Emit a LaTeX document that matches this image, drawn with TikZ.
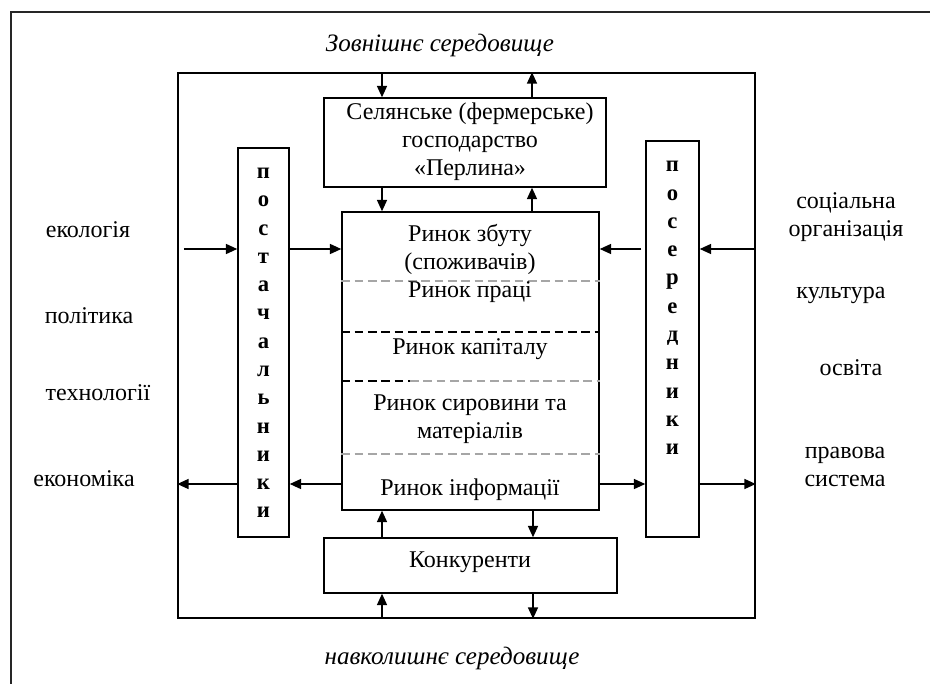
\documentclass[tikz,border=0pt]{standalone}
\usepackage{fontspec}
\setmainfont{Liberation Serif}
\usetikzlibrary{fit,arrows.meta}
\begin{document}
\begin{tikzpicture}[x=0.75pt,y=-0.75pt,
  box/.style={draw=black,line width=1.1pt,inner sep=0pt},
  txt/.style={font=\fontsize{18}{21}\selectfont,align=center,inner sep=0pt},
  vtxt/.style={font=\bfseries\fontsize{17}{21.2}\selectfont,align=center,inner sep=0pt},
  itxt/.style={font=\itshape\fontsize{18.8}{21}\selectfont,inner sep=0pt},
  arr/.style={line width=1.1pt,-{Triangle[length=8.5pt,width=7.5pt]}},
  dline/.style={line width=1pt,dash pattern=on 6.5pt off 3.5pt},
  frameline/.style={draw=black!85,line width=1.5pt}]
\useasboundingbox (0,0) rectangle (930,684);
\draw[frameline] (11,684) -- (11,12) -- (930,12);
% boxes
\node[box,fit={(178,73) (755,618)}] (env) {};
\node[box,fill=white,fit={(324,98) (606,187)}] (farm) {};
\node[box,fill=white,fit={(342,212) (599,510)}] (market) {};
\node[box,fill=white,fit={(324,538) (617,593)}] (konk) {};
\node[box,fill=white,fit={(238,148) (289,537)}] (post) {};
\node[box,fill=white,fit={(646,141) (699,537)}] (posr) {};
% dashed dividers
\draw[dline,gray!70] (market.west |- 0,281) -- (market.east |- 0,281);
\draw[dline,black] (market.west |- 0,332) -- (market.east |- 0,332);
\draw[dline,black] (market.west |- 0,381) -- (410,381);
\draw[dline,gray!70] (410,381) -- (market.east |- 0,381);
\draw[dline,gray!70] (market.west |- 0,454) -- (market.east |- 0,454);
% texts
\node[txt] (tfarm) at (470,142) {Селянське (фермерське)\\господарство\\«Перлина»};
\node[txt] (t1) at (470,249) {Ринок збуту\\(споживачів)};
\node[txt] (t2) at (470,292) {Ринок праці};
\node[txt] (t3) at (470,349) {Ринок капіталу};
\node[txt] (t4) at (470,419) {Ринок сировини та\\матеріалів};
\node[txt] (t5) at (470,490) {Ринок інформації};
\node[txt] (t6) at (470,562) {Конкуренти};
\node[vtxt] (tpost) at (263.5,343) {п\\о\\с\\т\\а\\ч\\а\\л\\ь\\н\\и\\к\\и};
\node[vtxt] (tposr) at (672.5,308) {п\\о\\с\\е\\р\\е\\д\\н\\и\\к\\и};
\node[itxt] (top) at (440,45) {Зовнішнє середовище};
\node[itxt] (bot) at (452,658) {навколишнє середовище};
\node[txt] (l1) at (88,230) {екологія};
\node[txt] (l2) at (89,316) {політика};
\node[txt] (l3) at (98,393) {технології};
\node[txt] (l4) at (84,479) {економіка};
\node[txt] (r1) at (846,217) {соціальна\\організація};
\node[txt] (r2) at (841,295) {культура};
\node[txt] (r3) at (851,368) {освіта};
\node[txt] (r4) at (845,467) {правова\\система};
% vertical arrows
\draw[arr] (382,0 |- env.north) -- (382,0 |- farm.north);
\draw[arr] (532,0 |- farm.north) -- (532,0 |- env.north);
\draw[arr] (382,0 |- farm.south) -- (382,0 |- market.north);
\draw[arr] (532,0 |- market.north) -- (532,0 |- farm.south);
\draw[arr] (382,0 |- konk.north) -- (382,0 |- market.south);
\draw[arr] (533,0 |- market.south) -- (533,0 |- konk.north);
\draw[arr] (382,0 |- env.south) -- (382,0 |- konk.south);
\draw[arr] (533,0 |- konk.south) -- (533,0 |- env.south);
% horizontal arrows, upper
\draw[arr,shorten <=5pt] (env.west |- 0,249) -- (post.west |- 0,249);
\draw[arr] (post.east |- 0,249) -- (market.west |- 0,249);
\draw[arr,shorten <=3pt] (posr.west |- 0,249) -- (market.east |- 0,249);
\draw[arr] (env.east |- 0,249) -- (posr.east |- 0,249);
% horizontal arrows, lower
\draw[arr] (post.west |- 0,484) -- (env.west |- 0,484);
\draw[arr] (market.west |- 0,484) -- (post.east |- 0,484);
\draw[arr] (market.east |- 0,484) -- (posr.west |- 0,484);
\draw[arr] (posr.east |- 0,484) -- (env.east |- 0,484);
\end{tikzpicture}
\end{document}
